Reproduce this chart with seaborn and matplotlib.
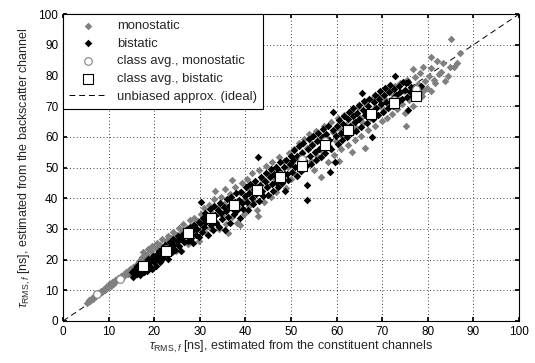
import matplotlib
matplotlib.use("Agg")
import matplotlib.pyplot as plt
import pandas as pd
import seaborn as sns
import numpy as np

# monostatic measurements (x: constituent channels, y: backscatter channel)
mono_x = [5.2, 5.6, 5.9, 6.3, 6.6, 7.0, 7.2, 7.6, 7.9, 8.2, 8.5, 8.9, 9.1, 9.5, 9.8, 10.1, 10.4, 10.8,
          11.0, 11.4, 11.7, 12.0, 12.3, 12.7, 12.9, 13.3, 13.6, 13.9, 14.2, 14.6, 14.9, 15.3, 15.6,
          16.0, 16.3,
          16.6, 17.0, 17.3, 17.6, 17.9, 18.3, 18.6, 18.9, 19.3, 19.6, 19.9, 20.3, 20.6, 21.0, 21.3,
          21.7, 22.0, 22.3, 22.6, 23.0, 23.3, 23.7, 24.0, 24.4, 24.8, 25.0, 25.4, 25.7, 26.1, 26.4,
          26.8, 27.1, 27.5, 27.8, 28.1, 28.5, 28.8, 29.2, 29.5, 29.8,
          30.2, 30.5, 30.9, 31.3, 31.6, 32.0, 32.3, 32.7, 33.0, 33.3, 33.5, 33.9, 34.2, 34.6, 34.9,
          35.3, 35.5, 35.8, 36.1, 36.2, 36.6, 37.0, 37.0, 37.4, 37.8, 38.1, 38.5, 38.8, 38.9, 39.3,
          39.6, 40.0, 40.4, 40.7, 41.1, 41.5, 41.8, 42.2, 42.6, 42.8, 43.0, 43.3, 43.7, 44.1, 44.5,
          44.8, 45.2, 45.6, 45.9, 46.3, 46.7, 47.0, 47.4, 47.8, 48.2, 48.5, 48.9, 49.3, 49.6, 49.9,
          50.3, 50.7, 51.0, 51.4, 51.8, 52.1, 52.5, 52.9, 53.2, 53.6, 54.0, 54.3, 54.7, 55.1, 55.4,
          55.8, 56.2, 56.5, 56.9, 57.3, 57.6, 58.0, 58.4, 58.7, 59.1, 59.5, 59.8, 60.2, 60.5, 60.6,
          61.0, 61.3, 61.7, 62.1, 62.4, 62.8, 63.2, 63.3, 63.6, 64.0, 64.3, 64.7, 65.1, 65.4, 65.8,
          66.2, 66.2, 66.5, 66.9, 67.3, 67.7, 68.0, 68.4, 68.8, 69.2, 69.6, 69.9,
          70.3, 70.7, 71.0, 71.4, 71.8, 72.1, 72.5, 72.9, 73.2, 73.6, 74.0, 74.3, 74.7, 75.0, 75.3,
          75.5, 75.9, 76.3, 76.8, 76.7, 77.1, 77.5, 77.9, 78.3, 78.7, 79.0, 79.0, 79.4, 79.8, 80.2,
          80.6, 80.8, 80.8, 81.3, 81.6, 82.0, 82.4, 83.0, 83.3, 83.8, 84.5, 84.9, 85.2, 85.8, 86.5,
          87.1]
mono_y = [5.9, 6.8, 6.5, 7.6, 7.3, 8.4, 8.0, 9.1, 8.7, 9.8, 9.4, 10.5, 10.1, 11.2, 10.9, 11.9, 11.5, 12.6,
          12.1, 13.3, 12.9, 13.9, 13.5, 14.6, 14.1, 15.3, 14.8, 16.0, 15.5, 16.8, 16.2, 17.6, 16.9,
          18.3, 17.5,
          19.6, 18.4, 20.8, 22.4, 19.8, 21.6, 23.3, 20.7, 22.7, 24.5, 21.3, 23.8, 25.4, 22.6, 24.9,
          26.6, 20.5, 23.7, 25.9, 27.8, 24.8, 26.9, 29.0, 25.6, 22.9, 28.1, 30.2, 26.8, 29.1, 31.5,
          27.9, 30.3, 25.1, 32.9, 29.2, 31.4, 33.7, 30.1, 32.6, 26.0,
          34.9, 31.4, 36.8, 28.6, 33.5, 37.9, 30.2, 35.1, 39.6, 42.2, 32.1, 36.8, 29.8, 40.5, 34.4,
          38.1, 43.0, 31.7, 28.6, 36.9, 41.3, 45.9, 33.9, 38.6, 43.6, 31.9, 36.7, 31.3, 41.9, 44.8,
          35.0, 39.8, 46.2, 37.5, 42.8, 48.1, 39.0, 44.3, 36.1, 34.2, 49.2, 41.6, 46.1, 38.9, 50.4,
          43.7, 47.9, 40.3, 51.8, 45.2, 42.0, 49.6, 53.3, 44.5, 47.7, 52.1, 43.3, 50.2, 54.7, 46.4,
          51.8, 56.2, 47.5, 53.5, 57.9, 49.0, 55.0, 59.3, 50.6, 56.4, 60.8, 52.1, 57.6, 49.2, 62.0,
          53.8, 59.1, 46.8, 55.3, 63.4, 60.0, 51.7, 57.0, 64.7, 61.5, 54.0, 58.6, 66.0, 52.0, 62.8,
          55.9, 60.3, 67.2, 63.9, 57.5, 61.8, 68.5, 55.2, 64.6, 59.0, 63.0, 69.6, 66.1, 60.4, 64.5,
          56.3, 71.0, 67.5, 62.1, 66.0, 72.2, 68.6, 63.7, 67.2, 73.3, 70.0, 65.1,
          68.7, 72.4, 66.3, 75.0, 70.2, 67.5, 73.8, 76.6, 69.1, 72.3, 77.5, 70.6, 74.9, 67.8, 63.6,
          78.4, 72.0, 75.9, 82.1, 70.1, 79.5, 74.1, 77.3, 80.8, 73.2, 82.7, 74.8, 78.1, 76.0, 79.9,
          86.0, 82.4, 74.8, 78.4, 77.5, 84.6, 80.6, 81.3, 84.2, 78.1, 79.7, 82.9, 91.8, 82.7, 84.0,
          87.3]

# bistatic measurements
bi_x = [15.1, 15.4, 15.8, 16.1, 16.3, 16.7, 16.9, 17.2, 17.4, 17.7, 18.0, 18.1, 18.5, 18.6, 18.9,
        19.3, 19.4, 19.8, 20.0, 20.3, 20.5, 20.6, 21.0, 21.2, 21.5, 21.7, 22.0, 22.3, 22.4, 22.8,
        23.1, 23.2, 23.5, 23.8, 24.1, 24.2, 24.6, 24.9, 25.1, 25.4, 25.7, 25.9, 26.2, 26.5, 26.6,
        27.0, 27.3, 27.5, 27.9, 28.0, 28.3, 28.6, 28.8, 29.1, 29.4, 29.7, 29.9,
        30.1, 30.2, 30.4, 30.7, 30.9, 31.2, 31.4, 31.7, 31.9, 32.2, 32.4, 32.6, 32.9, 33.1, 33.4,
        33.6, 33.9, 34.1, 34.4, 34.6, 34.9, 35.2, 35.5, 35.7, 35.9, 36.2, 36.4, 36.7, 36.9, 37.2,
        37.5, 37.7, 38.0, 38.2, 38.5, 38.8, 39.0, 39.3, 39.5, 39.8, 40.1, 40.3, 40.6, 40.8, 41.1,
        41.4, 41.6, 41.9, 42.1, 42.4, 42.8, 42.9, 43.2, 43.4, 43.7, 43.9, 44.2, 44.5, 44.7, 45.0,
        45.3, 45.5, 45.8, 46.0, 46.3, 46.6, 46.8, 47.1, 47.3, 47.6, 47.9, 48.1, 48.4, 48.7, 48.9,
        49.2, 49.4, 49.7, 49.9,
        50.2, 50.4, 50.7, 50.9, 51.2, 51.4, 51.7, 51.9, 52.2, 52.4, 52.7, 52.9, 53.2, 53.4, 53.6,
        53.7, 53.9, 54.2, 54.4, 54.7, 54.9, 55.2, 55.4, 55.7, 55.9, 56.2, 56.5, 56.7, 57.0, 57.2,
        57.5, 57.7, 58.0, 58.3, 58.6, 58.8, 59.1, 59.3, 59.6, 59.8, 60.1, 60.3, 60.6, 60.9, 61.1,
        61.4, 61.6, 61.9, 62.2, 62.4, 62.7, 62.9, 63.2, 63.5, 63.7, 64.0, 64.3, 64.5, 64.8, 65.0,
        65.3, 65.5, 65.8, 66.1, 66.3, 66.6, 66.8, 67.1, 67.4, 67.7, 67.9, 68.2, 68.4, 68.7, 69.0,
        69.2, 69.5, 69.8,
        70.1, 70.4, 70.6, 70.9, 71.2, 71.5, 71.8, 72.1, 72.3, 72.6, 72.8, 73.1, 73.4, 73.7, 74.0,
        74.3, 74.6, 74.9, 75.3, 75.5, 75.7, 75.7, 76.0, 76.4, 76.8, 77.2, 77.8, 78.5]
bi_y = [15.8, 14.2, 16.9, 15.3, 17.8, 16.0, 14.9, 18.6, 17.1, 15.8, 19.2, 17.7, 16.4, 20.3, 18.2,
        19.9, 17.0, 21.2, 19.1, 18.0, 21.9, 20.4, 22.7, 19.3, 21.5, 23.4, 20.6, 22.9, 24.6, 21.8,
        20.1, 23.9, 25.7, 22.5, 24.8, 26.8, 23.2, 25.9, 27.6, 24.3, 26.8, 22.9, 28.4, 25.6, 27.7,
        29.5, 26.1, 28.3, 30.6, 27.0, 29.2, 25.3, 31.4, 28.1, 30.0, 32.3, 27.5,
        31.8, 38.9, 29.0, 33.4, 30.5, 35.1, 32.2, 28.1, 34.0, 36.6, 31.1, 33.8, 29.7, 37.4, 34.5,
        32.0, 36.2, 30.6, 38.3, 35.1, 33.2, 37.0, 29.7, 35.9, 39.6, 33.8, 37.5, 31.9, 40.3, 36.4,
        34.7, 38.8, 41.6, 36.0, 39.4, 33.5, 42.1, 38.3, 36.6, 40.7, 43.5, 38.9, 36.0, 41.8, 44.6,
        40.2, 38.1, 43.0, 45.6, 41.3, 53.3, 39.2, 44.4, 47.0, 42.5, 40.6, 45.6, 48.1, 43.5, 41.2,
        46.8, 49.5, 44.7, 42.3, 47.9, 50.2, 45.4, 43.6, 48.9, 51.7, 46.5, 44.9, 50.3, 42.2, 52.6,
        47.8, 45.9, 51.1, 53.9,
        48.6, 52.4, 55.6, 50.1, 47.2, 53.6, 56.9, 51.4, 49.0, 54.8, 58.1, 52.3, 50.4, 39.5, 44.3,
        56.0, 59.2, 53.7, 51.2, 57.3, 60.4, 55.0, 52.5, 58.6, 61.3, 56.1, 53.4, 59.8, 62.6, 57.4,
        54.8, 61.0, 63.5, 58.9, 48.7, 56.0, 62.1, 68.2, 51.9, 60.2, 63.4, 57.6, 65.5, 61.4, 59.0,
        64.2, 66.9, 62.7, 60.1, 65.8, 68.0, 63.6, 61.2, 66.7, 69.3, 64.9, 62.0, 67.8, 70.4, 65.8,
        63.3, 74.4, 68.9, 71.6, 67.0, 64.5, 70.0, 72.5, 68.2, 59.8, 65.7, 71.3, 73.6, 69.4, 67.0,
        72.4, 74.8, 70.6,
        68.1, 73.5, 75.9, 71.5, 69.3, 74.6, 77.0, 72.4, 70.2, 75.5, 79.7, 73.6, 71.4, 76.6, 74.5,
        72.3, 77.8, 75.4, 77.5, 72.9, 68.8, 78.0, 74.6, 76.4, 73.3, 75.9, 74.2, 76.6]

# class averages (5 ns bins)
avg_mono_x = [7.5, 12.5, 17.5, 22.5, 27.5, 32.5, 37.5, 42.5, 47.5, 52.5, 57.5, 62.5, 67.5, 72.5, 77.5]
avg_mono_y = [8.8, 13.6, 18.5, 23.3, 28.3, 33.5, 38.0, 42.5, 47.5, 52.9, 58.6, 62.5, 67.0, 72.0, 75.6]
avg_bi_x = [17.5, 22.5, 27.5, 32.5, 37.5, 42.5, 47.5, 52.5, 57.5, 62.5, 67.5, 72.5, 77.5]
avg_bi_y = [17.9, 22.9, 28.5, 33.7, 37.8, 42.7, 46.9, 50.5, 57.2, 62.2, 67.4, 71.1, 73.3]

mono = pd.DataFrame({"x": mono_x, "y": mono_y})
bi = pd.DataFrame({"x": bi_x, "y": bi_y})
avg_mono = pd.DataFrame({"x": avg_mono_x, "y": avg_mono_y})
avg_bi = pd.DataFrame({"x": avg_bi_x, "y": avg_bi_y})

sns.set_theme(style="white")
plt.rcParams["font.family"] = ["Liberation Sans", "DejaVu Sans"]
plt.rcParams["mathtext.fontset"] = "custom"
plt.rcParams["mathtext.rm"] = "Liberation Sans"
plt.rcParams["mathtext.it"] = "Liberation Sans:italic"

fig, ax = plt.subplots(figsize=(5.35, 3.63), dpi=100)
fig.subplots_adjust(left=0.118, right=0.970, bottom=0.116, top=0.961)

ax.plot([0, 100], [0, 100], color="black", linestyle=(0, (6, 4)), linewidth=0.7,
        label="unbiased approx. (ideal)", zorder=1)
sns.scatterplot(data=mono, x="x", y="y", marker="D", s=15, color="#808080",
                linewidth=0, legend=False, ax=ax, label="monostatic", zorder=2)
sns.scatterplot(data=bi, x="x", y="y", marker="D", s=15, color="black",
                linewidth=0, legend=False, ax=ax, label="bistatic", zorder=3)
sns.scatterplot(data=avg_mono, x="x", y="y", marker="o", s=30, color="white",
                edgecolor="#808080", linewidth=0.8, legend=False, ax=ax,
                label="class avg., monostatic", zorder=4)
sns.scatterplot(data=avg_bi, x="x", y="y", marker="s", s=42, color="white",
                edgecolor="black", linewidth=0.8, legend=False, ax=ax,
                label="class avg., bistatic", zorder=5)

ax.set_xlim(0, 100)
ax.set_ylim(0, 100)
ax.set_xticks(np.arange(0, 101, 10))
ax.set_yticks(np.arange(0, 101, 10))
ax.grid(True, linestyle=(0, (1, 3)), color="black", linewidth=0.6)
ax.tick_params(direction="in", length=3, labelsize=8.5, top=True, right=True,
               bottom=True, left=True, colors="black")
for sp in ax.spines.values():
    sp.set_color("black")
    sp.set_linewidth(0.8)

ax.set_xlabel(r"$\tau_{\mathrm{RMS},\mathit{f}}$ [ns], estimated from the constituent channels",
              fontsize=9, labelpad=1)
ax.set_ylabel(r"$\tau_{\mathrm{RMS},\mathit{f}}$ [ns], estimated from the backscatter channel",
              fontsize=9, labelpad=4)

handles, labels = ax.get_legend_handles_labels()
order = ["monostatic", "bistatic", "class avg., monostatic", "class avg., bistatic",
         "unbiased approx. (ideal)"]
hmap = dict(zip(labels, handles))
leg = ax.legend([hmap[k] for k in order], order, loc="upper left", borderaxespad=0,
                fontsize=9.4, frameon=True, fancybox=False, framealpha=1,
                edgecolor="black", handlelength=2.9, handletextpad=0.8,
                labelspacing=0.42, borderpad=0.45)
leg.get_frame().set_linewidth(0.8)

plt.savefig("out.png", dpi=100)
plt.close()
